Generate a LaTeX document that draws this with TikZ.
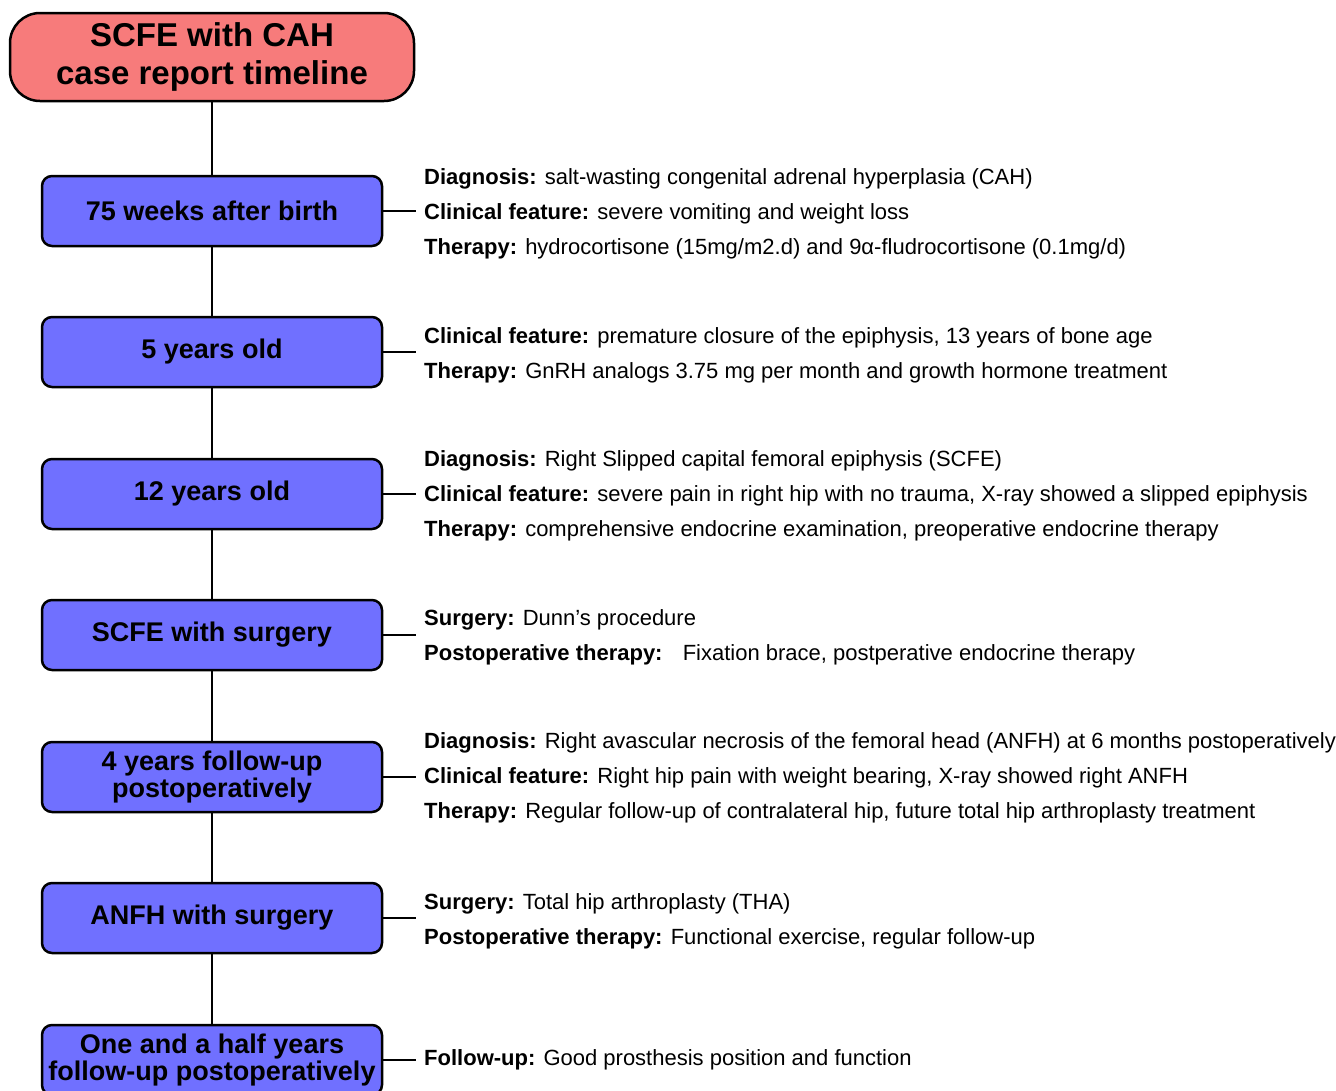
\documentclass[tikz,border=0pt]{standalone}
\usepackage{fontspec}
\setmainfont{Liberation Sans}
\definecolor{titlered}{RGB}{247,123,123}
\definecolor{eventblue}{RGB}{112,112,255}
\begin{document}
\begin{tikzpicture}[x=1pt,y=-1pt,
  titlebox/.style={draw, line width=2.5pt, fill=titlered, rounded corners=30pt,
    minimum width=404pt, minimum height=88pt, align=center, inner sep=0pt,
    font=\bfseries\fontsize{33}{38}\selectfont},
  eventbox/.style={draw, line width=2.5pt, fill=eventblue, rounded corners=10pt,
    minimum width=340pt, minimum height=70pt, align=center, inner sep=0pt,
    font=\bfseries\fontsize{27}{27.5}\selectfont},
  info/.style={anchor=west, align=left, inner xsep=8pt, inner ysep=0pt,
    font=\fontsize{22}{35}\selectfont},
  link/.style={line width=2.5pt}]
\useasboundingbox (0,0) rectangle (1336,1090);
\clip (0,0) rectangle (1336,1090);
\fill[white] (0,0) rectangle (1336,1090);

\node[titlebox] (t) at (212,57) {SCFE with CAH\\case report timeline};
\node[eventbox] (e1) at (212,211) {75 weeks after birth};
\node[eventbox] (e2) at (212,352) {5 years old};
\node[eventbox] (e3) at (212,494) {12 years old};
\node[eventbox] (e4) at (212,635) {SCFE with surgery};
\node[eventbox] (e5) at (212,777) {4 years follow-up\\postoperatively};
\node[eventbox] (e6) at (212,918) {ANFH with surgery};
\node[eventbox] (e7) at (212,1060) {One and a half years\\follow-up postoperatively};

\node[info] (i1) at (416,214) {\textbf{Diagnosis:} salt-wasting congenital adrenal hyperplasia (CAH)\\
\textbf{Clinical feature:} severe vomiting and weight loss\\
\textbf{Therapy:} hydrocortisone (15mg/m2.d) and 9α-fludrocortisone (0.1mg/d)};
\node[info] (i2) at (416,355) {\textbf{Clinical feature:} premature closure of the epiphysis, 13 years of bone age\\
\textbf{Therapy:} GnRH analogs 3.75 mg per month and growth hormone treatment};
\node[info] (i3) at (416,496) {\textbf{Diagnosis:} Right Slipped capital femoral epiphysis (SCFE)\\
\textbf{Clinical feature:} severe pain in right hip with no trauma, X-ray showed a slipped epiphysis\\
\textbf{Therapy:} comprehensive endocrine examination, preoperative endocrine therapy};
\node[info] (i4) at (416,637) {\textbf{Surgery:} Dunn’s procedure\\
\textbf{Postoperative therapy:}\hspace{12pt} Fixation brace, postperative endocrine therapy};
\node[info] (i5) at (416,778) {\textbf{Diagnosis:} Right avascular necrosis of the femoral head (ANFH) at 6 months postoperatively\\
\textbf{Clinical feature:} Right hip pain with weight bearing, X-ray showed right ANFH\\
\textbf{Therapy:} Regular follow-up of contralateral hip, future total hip arthroplasty treatment};
\node[info] (i6) at (416,921) {\textbf{Surgery:} Total hip arthroplasty (THA)\\
\textbf{Postoperative therapy:} Functional exercise, regular follow-up};
\node[info] (i7) at (416,1060) {\textbf{Follow-up:} Good prosthesis position and function};

\draw[link] (t) -- (e1);
\draw[link] (e1) -- (e2);
\draw[link] (e2) -- (e3);
\draw[link] (e3) -- (e4);
\draw[link] (e4) -- (e5);
\draw[link] (e5) -- (e6);
\draw[link] (e6) -- (e7);
\foreach \k in {1,...,7} {\draw[link] (e\k.east) -- (e\k.east -| i\k.west);}
\end{tikzpicture}
\end{document}
